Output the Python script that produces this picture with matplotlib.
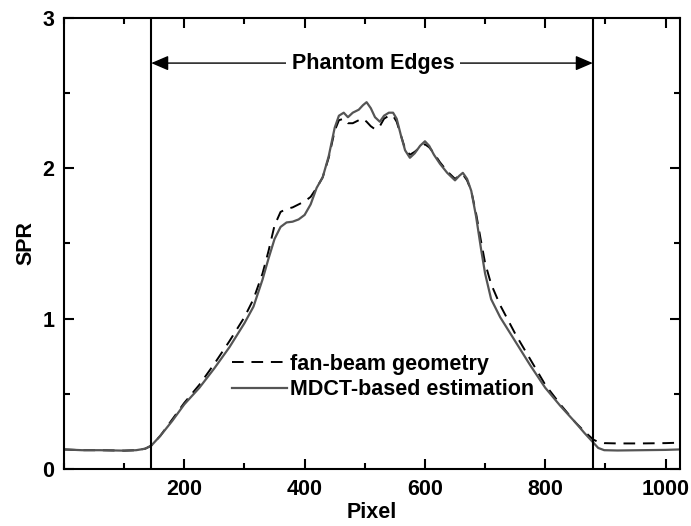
import matplotlib
matplotlib.use('Agg')
import matplotlib.pyplot as plt
from matplotlib.ticker import MultipleLocator

# fonts / style
plt.rcParams['font.family'] = ['Liberation Sans', 'DejaVu Sans']
plt.rcParams['font.weight'] = 'bold'
plt.rcParams['axes.labelweight'] = 'bold'
plt.rcParams['font.size'] = 15.5

# data
pixel = [0, 30, 60, 100, 120, 135, 145, 160, 180, 200, 225, 250, 275, 300, 315,
         330, 340, 350, 360, 370, 380, 390, 400, 410, 420, 430, 440, 450, 457,
         465, 472, 480, 490, 497, 503, 510, 517, 525, 532, 540, 547, 553, 560,
         567, 575, 583, 592, 600, 607, 615, 625, 637, 650, 657, 663, 670, 677,
         685, 693, 700, 710, 725, 750, 775, 800, 825, 850, 865, 880, 888, 898,
         920, 960, 1000, 1024]

spr_mdct = [0.13, 0.125, 0.125, 0.122, 0.125, 0.135, 0.155, 0.22, 0.32, 0.43,
            0.54, 0.67, 0.81, 0.97, 1.08, 1.26, 1.40, 1.53, 1.61, 1.64, 1.645,
            1.66, 1.69, 1.76, 1.87, 1.94, 2.08, 2.27, 2.35, 2.37, 2.34, 2.37,
            2.39, 2.42, 2.44, 2.40, 2.34, 2.31, 2.35, 2.37, 2.37, 2.33, 2.22,
            2.12, 2.07, 2.10, 2.15, 2.18, 2.15, 2.09, 2.03, 1.97, 1.92, 1.95,
            1.97, 1.93, 1.85, 1.68, 1.47, 1.30, 1.13, 1.01, 0.85, 0.69, 0.54,
            0.42, 0.31, 0.24, 0.175, 0.14, 0.125, 0.123, 0.125, 0.127, 0.13]

spr_fan = [0.13, 0.125, 0.125, 0.122, 0.125, 0.135, 0.155, 0.22, 0.33, 0.44,
           0.56, 0.70, 0.85, 1.01, 1.13, 1.30, 1.45, 1.62, 1.71, 1.73, 1.74,
           1.76, 1.78, 1.81, 1.87, 1.94, 2.07, 2.25, 2.32, 2.33, 2.30, 2.30,
           2.32, 2.33, 2.31, 2.28, 2.26, 2.28, 2.33, 2.35, 2.35, 2.31, 2.22,
           2.13, 2.09, 2.11, 2.14, 2.16, 2.14, 2.10, 2.04, 1.98, 1.93, 1.95,
           1.96, 1.92, 1.85, 1.70, 1.52, 1.37, 1.23, 1.09, 0.90, 0.73, 0.56,
           0.43, 0.31, 0.25, 0.195, 0.18, 0.172, 0.17, 0.17, 0.172, 0.175]

edges = [145, 879]

fig = plt.figure(figsize=(6.91, 5.26), dpi=100)
ax = fig.add_axes([0.0926, 0.1084, 0.8915, 0.8574])

ax.plot(pixel, spr_fan, color='black', lw=1.4, dashes=(6, 4), label='fan-beam geometry')
ax.plot(pixel, spr_mdct, color='#555555', lw=1.6, label='MDCT-based estimation')

for e in edges:
    ax.axvline(e, color='black', lw=1.5)

# phantom edges arrow
ax.annotate('', xy=(edges[0], 2.70), xytext=(edges[1], 2.70),
            arrowprops=dict(arrowstyle='<|-|>,head_length=0.7,head_width=0.3',
                            color='black', lw=1.0, shrinkA=0, shrinkB=0,
                            mutation_scale=15))
ax.text(514, 2.70, 'Phantom Edges', ha='center', va='center',
        bbox=dict(facecolor='white', edgecolor='none', pad=4))

ax.set_xlim(0, 1024)
ax.set_ylim(0, 3)
ax.xaxis.set_major_locator(MultipleLocator(200))
ax.xaxis.set_minor_locator(MultipleLocator(100))
ax.yaxis.set_major_locator(MultipleLocator(1))
ax.yaxis.set_minor_locator(MultipleLocator(0.5))
ax.set_xticks([200, 400, 600, 800, 1000])
ax.tick_params(which='both', direction='in', top=True, right=True, width=1.5)
ax.tick_params(which='major', length=7, pad=7)
ax.tick_params(which='minor', length=4)
for s in ax.spines.values():
    s.set_linewidth(1.5)

ax.set_xlabel('Pixel', labelpad=2)
ax.set_ylabel('SPR', labelpad=4)

ax.legend(loc='upper left', bbox_to_anchor=(0.273, 0.255), frameon=False,
          borderpad=0, borderaxespad=0, handlelength=2.55, handletextpad=0.15,
          labelspacing=0.2)

fig.savefig('out.png', dpi=100)
